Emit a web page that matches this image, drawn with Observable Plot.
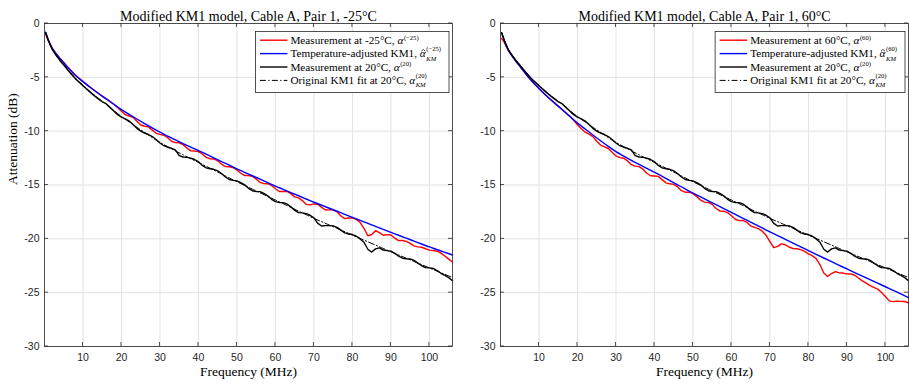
<!DOCTYPE html>
<html><head><meta charset="utf-8">
<script src="https://cdn.jsdelivr.net/npm/d3@7"></script>
<script src="https://cdn.jsdelivr.net/npm/@observablehq/plot@0.6"></script>
<style>
body{margin:0;background:#fff;}
#wrap{display:flex;width:909px;height:384px;overflow:hidden;}
#wrap svg{flex:none;}
</style></head><body><div id="wrap"></div>
<script>
// Smooth (model) curves, coarse frequency grid (MHz)
const fFit = [0.3,1,2,3,4,5,6,8,10,12,14,16,18,20,22,24,26,28,30,32,34,36,38,40,42,44,46,48,50,52,54,56,58,60,62,64,66,68,70,72,74,76,78,80,82,84,86,88,90,92,94,96,98,100,102,104,106];
const fit20 = [-0.85,-1.58,-2.4,-2.92,-3.4,-3.82,-4.25,-5.07,-5.73,-6.37,-6.95,-7.5,-8.08,-8.65,-9.14,-9.64,-10.12,-10.6,-11.05,-11.44,-11.83,-12.2,-12.56,-12.9,-13.26,-13.62,-13.98,-14.34,-14.7,-15.04,-15.38,-15.72,-16.06,-16.4,-16.74,-17.08,-17.42,-17.76,-18.1,-18.41,-18.72,-19.03,-19.34,-19.65,-19.96,-20.27,-20.58,-20.89,-21.2,-21.5,-21.8,-22.1,-22.4,-22.7,-23.0,-23.3,-23.6];
const adjM25 = [-0.8,-1.5,-2.3,-2.8,-3.25,-3.65,-4.05,-4.8,-5.4,-5.97,-6.5,-7.0,-7.5,-8.0,-8.44,-8.87,-9.29,-9.7,-10.1,-10.46,-10.81,-11.15,-11.48,-11.8,-12.14,-12.48,-12.82,-13.16,-13.5,-13.82,-14.14,-14.46,-14.78,-15.1,-15.4,-15.7,-16.0,-16.3,-16.6,-16.88,-17.16,-17.44,-17.72,-18.0,-18.28,-18.56,-18.84,-19.12,-19.4,-19.67,-19.94,-20.21,-20.48,-20.75,-21.0,-21.25,-21.5];
const adj60 = [-0.85,-1.6,-2.45,-3.0,-3.51,-3.96,-4.42,-5.3,-6.03,-6.73,-7.37,-7.98,-8.62,-9.25,-9.8,-10.36,-10.89,-11.41,-11.9,-12.31,-12.71,-13.09,-13.46,-13.81,-14.2,-14.59,-14.98,-15.37,-15.75,-16.11,-16.47,-16.83,-17.19,-17.55,-17.91,-18.27,-18.63,-18.99,-19.35,-19.7,-20.05,-20.4,-20.75,-21.1,-21.44,-21.78,-22.12,-22.46,-22.8,-23.13,-23.46,-23.79,-24.12,-24.45,-24.78,-25.11,-25.45];

// Measurements, 1 MHz grid
const fMeas = [0.3,1,2,3,4,5,6,7,8,9,10,11,12,13,14,15,16,17,18,19,20,21,22,23,24,25,26,27,28,29,30,31,32,33,34,35,36,37,38,39,40,41,42,43,44,45,46,47,48,49,50,51,52,53,54,55,56,57,58,59,60,61,62,63,64,65,66,67,68,69,70,71,72,73,74,75,76,77,78,79,80,81,82,83,84,85,86,87,88,89,90,91,92,93,94,95,96,97,98,99,100,101,102,103,104,105,106];
const meas20 = [-0.85,-1.58,-2.4,-2.95,-3.43,-3.86,-4.3,-4.72,-5.12,-5.46,-5.78,-6.1,-6.42,-6.72,-7.0,-7.27,-7.45,-7.79,-8.13,-8.47,-8.7,-8.85,-9.06,-9.39,-9.74,-10.0,-10.17,-10.31,-10.5,-10.78,-11.1,-11.35,-11.49,-11.59,-11.73,-12.27,-12.4,-12.43,-12.51,-12.63,-12.85,-13.18,-13.41,-13.49,-13.54,-13.68,-13.93,-14.26,-14.49,-14.57,-14.62,-14.77,-14.99,-15.31,-15.53,-15.6,-15.62,-15.77,-16.01,-16.33,-16.55,-16.62,-16.64,-16.76,-17.03,-17.35,-17.57,-17.59,-17.66,-17.81,-18.05,-18.56,-18.81,-18.77,-18.77,-18.8,-18.93,-19.19,-19.44,-19.55,-19.6,-19.76,-20.01,-20.32,-20.97,-21.23,-20.93,-20.84,-21.04,-21.1,-21.15,-21.35,-21.6,-21.8,-21.85,-21.87,-22.0,-22.25,-22.5,-22.67,-22.7,-22.75,-22.95,-23.2,-23.4,-23.6,-23.9];
const measM25 = [-1.0,-1.6,-2.28,-2.78,-3.23,-3.63,-4.03,-4.41,-4.78,-5.08,-5.38,-5.67,-5.95,-6.22,-6.48,-6.73,-6.98,-7.23,-7.5,-7.8,-8.15,-8.47,-8.59,-8.71,-9.07,-9.43,-9.54,-9.6,-9.9,-10.2,-10.3,-10.38,-10.61,-10.94,-11.06,-11.08,-11.25,-11.57,-11.83,-11.84,-11.9,-12.12,-12.44,-12.56,-12.58,-12.75,-13.07,-13.29,-13.31,-13.38,-13.6,-13.91,-14.12,-14.13,-14.19,-14.45,-14.76,-14.87,-14.88,-15.04,-15.35,-15.6,-15.6,-15.6,-15.8,-16.1,-16.2,-16.45,-16.8,-16.85,-16.75,-16.79,-17.08,-17.32,-17.31,-17.3,-17.49,-17.88,-18.12,-18.06,-18.05,-18.19,-18.48,-19.02,-19.71,-19.6,-19.24,-19.43,-19.67,-19.61,-19.65,-19.94,-20.17,-20.16,-20.24,-20.43,-20.66,-20.75,-20.78,-20.92,-21.05,-21.08,-21.15,-21.33,-21.6,-21.88,-22.15];
const meas60 = [-1.4,-1.75,-2.5,-3.0,-3.51,-3.96,-4.42,-4.87,-5.3,-5.67,-6.03,-6.38,-6.73,-7.05,-7.37,-7.68,-7.98,-8.3,-8.62,-8.99,-9.4,-9.78,-10.1,-10.28,-10.51,-10.93,-11.29,-11.45,-11.61,-11.96,-12.3,-12.46,-12.51,-12.76,-13.11,-13.25,-13.29,-13.53,-13.91,-14.14,-14.16,-14.2,-14.5,-14.8,-14.89,-14.94,-15.18,-15.53,-15.67,-15.66,-15.8,-16.08,-16.41,-16.59,-16.62,-16.8,-17.18,-17.41,-17.44,-17.57,-17.85,-18.18,-18.31,-18.29,-18.47,-18.8,-18.93,-19.06,-19.29,-19.67,-20.25,-20.82,-20.7,-20.47,-20.55,-20.77,-20.9,-20.92,-21.0,-21.17,-21.4,-21.57,-21.84,-22.41,-23.18,-23.5,-23.22,-23.04,-23.16,-23.18,-23.25,-23.26,-23.38,-23.64,-23.91,-24.12,-24.34,-24.5,-24.67,-24.98,-25.35,-25.76,-25.83,-25.79,-25.81,-25.82,-25.95];

const xTicks = [10,20,30,40,50,60,70,80,90,100];
const yTicks = [-30,-25,-20,-15,-10,-5,0];

const titles = ["Modified KM1 model, Cable A, Pair 1, -25°C", "Modified KM1 model, Cable A, Pair 1, 60°C"];
const xLabel = "Frequency (MHz)";
const yLabel = "Attenuation (dB)";
const legendM25 = [
  {main: "Measurement at -25°C, ", sup: "(−25)", sub: null, hat: false},
  {main: "Temperature-adjusted KM1, ", sup: "(−25)", sub: "KM", hat: true},
  {main: "Measurement at 20°C, ", sup: "(20)", sub: null, hat: false},
  {main: "Original KM1 fit at 20°C, ", sup: "(20)", sub: "KM", hat: false}
];
const legend60 = [
  {main: "Measurement at 60°C, ", sup: "(60)", sub: null, hat: false},
  {main: "Temperature-adjusted KM1, ", sup: "(60)", sub: "KM", hat: true},
  {main: "Measurement at 20°C, ", sup: "(20)", sub: null, hat: false},
  {main: "Original KM1 fit at 20°C, ", sup: "(20)", sub: "KM", hat: false}
];
const legendStyles = [
  {stroke: "#ff0000", dash: null, w: 1.4},
  {stroke: "#0000ff", dash: null, w: 1.4},
  {stroke: "#000000", dash: null, w: 1.4},
  {stroke: "#000000", dash: "6,2.3,1.3,2.3", w: 1}
];

const SERIF = "'Liberation Serif', 'Times New Roman', serif";
const SANS = "'Liberation Sans', Arial, Helvetica, sans-serif";
const AX = "#262626";

function panel(cfg) {
  const W = cfg.width, H = 384, mt = 23, mb = 38, ml = 44, mr = cfg.mr;
  const fitData = fFit.map((f, i) => ({f, v: fit20[i]}));
  const adjData = fFit.map((f, i) => ({f, v: cfg.adj[i]}));
  const measData = fMeas.map((f, i) => ({f, v: cfg.meas[i]}));
  const m20Data = fMeas.map((f, i) => ({f, v: meas20[i]}));
  const marks = [
    Plot.gridX(xTicks, {stroke: "#e2e2e2", strokeOpacity: 1, strokeWidth: 1}),
    Plot.gridY(yTicks, {stroke: "#e2e2e2", strokeOpacity: 1, strokeWidth: 1}),
    Plot.line(measData, {x: "f", y: "v", stroke: "#ff0000", strokeWidth: 1.4}),
    Plot.line(adjData, {x: "f", y: "v", stroke: "#0000ff", strokeWidth: 1.4, curve: "monotone-x"}),
    Plot.line(m20Data, {x: "f", y: "v", stroke: "#000000", strokeWidth: 1.4}),
    Plot.line(fitData, {x: "f", y: "v", stroke: "#000000", strokeWidth: 1, strokeDasharray: "6,2.3,1.3,2.3", curve: "monotone-x"}),
    Plot.frame({stroke: AX, strokeWidth: 0.8}),
    Plot.axisX(xTicks, {anchor: "bottom", tickSize: 0, tickPadding: 7, fontSize: 10.5, fontFamily: SANS, fill: AX, label: null}),
    Plot.axisY(yTicks, {anchor: "left", tickSize: 0, tickPadding: 5, fontSize: 10.5, fontFamily: SANS, fill: AX, label: null, tickFormat: d => String(d)}),
    Plot.text([cfg.title], {text: d => d, frameAnchor: "top", dy: -12, fontFamily: SERIF, fontSize: 14, fill: "#000"}),
    Plot.text([xLabel], {text: d => d, frameAnchor: "bottom", dy: 29, fontFamily: SERIF, fontSize: 13.5, fill: "#000"})
  ];
  if (cfg.ylabel) marks.push(Plot.text([yLabel], {text: d => d, frameAnchor: "left", dx: -32, rotate: -90, fontFamily: SERIF, fontSize: 13.5, fill: "#000"}));
  const svg = Plot.plot({
    width: W, height: H, marginTop: mt, marginBottom: mb, marginLeft: ml, marginRight: mr,
    x: {domain: [0, 106], label: null},
    y: {domain: [-30, 0], label: null},
    style: {background: "white", overflow: "visible"},
    marks
  });
  document.getElementById("wrap").appendChild(svg);

  // inward tick marks on all four sides (MATLAB box style)
  const xs = svg.scale("x"), ys = svg.scale("y");
  const left = ml, right = W - mr, top = mt, bottom = H - mb;
  const sel = d3.select(svg);
  const tg = sel.append("g").attr("stroke", AX).attr("stroke-width", 0.8);
  xTicks.forEach(v => {
    const px = xs.apply(v);
    tg.append("line").attr("x1", px).attr("x2", px).attr("y1", bottom).attr("y2", bottom - 4);
    tg.append("line").attr("x1", px).attr("x2", px).attr("y1", top).attr("y2", top + 4);
  });
  yTicks.forEach(v => {
    const py = ys.apply(v);
    tg.append("line").attr("x1", left).attr("x2", left + 4).attr("y1", py).attr("y2", py);
    tg.append("line").attr("x1", right).attr("x2", right - 4).attr("y1", py).attr("y2", py);
  });

  // legend
  const g = sel.append("g").attr("text-anchor", "start").attr("font-family", SERIF).attr("fill", "#000");
  const rect = g.append("rect");
  const fs = 11.2, sfs = 6.6;
  let maxEnd = 0;
  cfg.legend.forEach((r, i) => {
    const st = legendStyles[i];
    const cy = 8.7 + i * 13.4;
    g.append("line").attr("x1", 4.5).attr("x2", 32).attr("y1", cy).attr("y2", cy)
      .attr("stroke", st.stroke).attr("stroke-width", st.w).attr("stroke-dasharray", st.dash);
    const t = g.append("text").attr("x", 35).attr("y", cy + 3.8)
      .attr("font-size", fs).attr("text-anchor", "start");
    const t1 = t.append("tspan").text(r.main);
    const t2 = t.append("tspan").attr("font-style", "italic").text("α");
    const mainLen = t1.node().getComputedTextLength();
    const symLen = t2.node().getComputedTextLength();
    if (r.hat) {
      const hx = 35 + mainLen + symLen / 2 + 0.5;
      g.append("path").attr("d", `M${hx - 2},${cy - 2.3}L${hx},${cy - 4.2}L${hx + 2},${cy - 2.3}`)
        .attr("fill", "none").attr("stroke", "#000").attr("stroke-width", 0.7);
    }
    const end = 35 + mainLen + symLen + 0.6;
    let w = 0;
    if (r.sup) {
      const s = g.append("text").attr("x", end).attr("y", cy + (r.sub ? -2.4 : -0.7))
        .attr("font-size", sfs).attr("text-anchor", "start").text(r.sup);
      w = Math.max(w, s.node().getComputedTextLength());
    }
    if (r.sub) {
      const s = g.append("text").attr("x", end).attr("y", cy + 7.0)
        .attr("font-size", sfs).attr("font-style", "italic").attr("text-anchor", "start").text(r.sub);
      w = Math.max(w, s.node().getComputedTextLength());
    }
    maxEnd = Math.max(maxEnd, end + w);
  });
  const bw = maxEnd + 8, bh = 61;
  rect.attr("x", 0).attr("y", 0).attr("width", bw).attr("height", bh)
    .attr("fill", "white").attr("stroke", AX).attr("stroke-width", 0.8);
  g.attr("transform", `translate(${right - 3 - bw},31.5)`);
}

panel({width: 456, mr: 4, title: titles[0], adj: adjM25, meas: measM25, legend: legendM25, ylabel: true});
panel({width: 453, mr: 1, title: titles[1], adj: adj60, meas: meas60, legend: legend60, ylabel: false});
</script>
</body></html>
